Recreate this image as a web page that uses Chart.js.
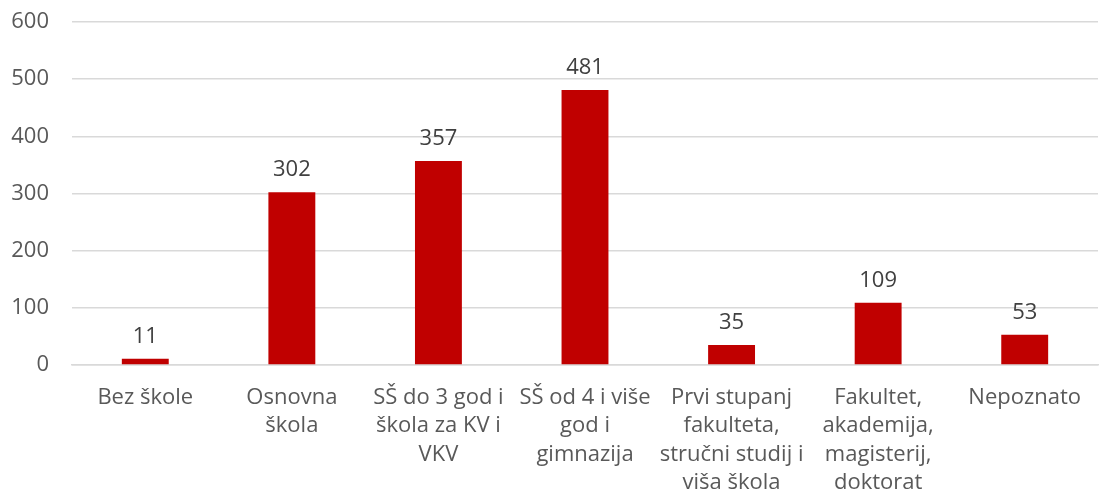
<!DOCTYPE html>
<html>
<head>
<meta charset="utf-8">
<script src="https://cdn.jsdelivr.net/npm/chart.js@4"></script>
<style>
  html, body { margin: 0; padding: 0; background: #fff; }
  #wrap { width: 1114px; height: 493px; }
</style>
</head>
<body>
<div id="wrap"><canvas id="eduChart"></canvas></div>
<script>
// categories (split into lines as in the original)
var categories = [
    ['Bez škole'],
    ['Osnovna', 'škola'],
    ['SŠ do 3 god i', 'škola za KV i', 'VKV'],
    ['SŠ od 4 i više', 'god i', 'gimnazija'],
    ['Prvi stupanj', 'fakulteta,', 'stručni studij i', 'viša škola'],
    ['Fakultet,', 'akademija,', 'magisterij,', 'doktorat'],
    ['Nepoznato']
];
var counts = [11, 302, 357, 481, 35, 109, 53];
var yTicks = [0, 100, 200, 300, 400, 500, 600];

// draw the value above every bar
var valueLabels = {
    id: 'valueLabels',
    afterDatasetsDraw: function (chart) {
        var ctx = chart.ctx;
        var meta = chart.getDatasetMeta(0);
        ctx.save();
        ctx.font = '22px "Open Sans"';
        ctx.fillStyle = '#404040';
        ctx.textAlign = 'center';
        ctx.textBaseline = 'alphabetic';
        meta.data.forEach(function (bar, i) {
            ctx.fillText(counts[i], bar.x, bar.y - 16);
        });
        ctx.restore();
    }
};

var ctx = document.getElementById('eduChart').getContext('2d');
var eduChart = new Chart(ctx, {
    type: 'bar',
    data: {
        labels: categories,
        datasets: [{
            data: counts,
            backgroundColor: '#C00000',
            barPercentage: 0.32,
            categoryPercentage: 1
        }]
    },
    options: {
        responsive: true,
        maintainAspectRatio: false,
        animation: false,
        layout: { padding: { top: 22, right: 16, left: 0, bottom: 0 } },
        plugins: {
            legend: { display: false },
            tooltip: { enabled: false }
        },
        scales: {
            x: {
                grid: { display: false },
                border: { color: '#D9D9D9', width: 1.5 },
                ticks: {
                    autoSkip: false,
                    maxRotation: 0,
                    padding: 10,
                    color: '#595959',
                    font: { family: 'Open Sans', size: 22, lineHeight: 1.3 }
                },
                afterFit: function (s) { s.height = 128; s.paddingLeft = 0; s.paddingRight = 0; }
            },
            y: {
                min: 0,
                max: 600,
                afterBuildTicks: function (s) {
                    s.ticks = yTicks.map(function (v) { return { value: v }; });
                },
                border: { display: false },
                grid: { color: '#D9D9D9', lineWidth: 1.5, drawTicks: false },
                ticks: {
                    padding: 23,
                    color: '#595959',
                    font: { family: 'Open Sans', size: 22 }
                },
                afterFit: function (s) { s.width = 72; s.paddingTop = 0; s.paddingBottom = 0; }
            }
        }
    },
    plugins: [valueLabels]
});
</script>
</body>
</html>
